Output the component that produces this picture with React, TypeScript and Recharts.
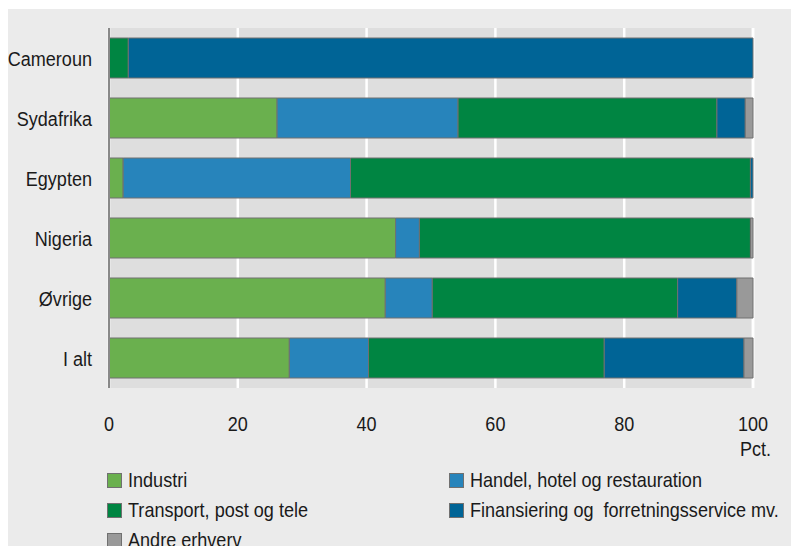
import React from "react";
import { BarChart, Bar, XAxis, YAxis, CartesianGrid } from "recharts";

const categories = ["Cameroun", "Sydafrika", "Egypten", "Nigeria", "Øvrige", "I alt"];
const industri = [0, 26.1, 2.2, 44.5, 42.9, 28.0];
const handel = [0, 28.1, 35.3, 3.7, 7.3, 12.3];
const transport = [3.0, 40.2, 62.1, 51.4, 38.1, 36.6];
const finansiering = [97.0, 4.4, 0.4, 0, 9.2, 21.7];
const andre = [0, 1.2, 0, 0.4, 2.5, 1.4];
const xTicks = [0, 20, 40, 60, 80, 100];
const unitLabel = "Pct.";

const seriesList = [
  { key: "industri", name: "Industri", color: "#6ab04e", values: industri },
  { key: "handel", name: "Handel, hotel og restauration", color: "#2784bb", values: handel },
  { key: "transport", name: "Transport, post og tele", color: "#008542", values: transport },
  { key: "finansiering", name: "Finansiering og  forretningsservice mv.", color: "#006496", values: finansiering },
  { key: "andre", name: "Andre erhverv", color: "#999999", values: andre },
];

const data = categories.map((c, i) => {
  const row: Record<string, any> = { name: c };
  seriesList.forEach((s) => (row[s.key] = s.values[i]));
  return row;
});

const FONT = "'Liberation Sans', Arial, sans-serif";
const FS = 21;
const SX = 0.86;
const TEXT = "#1a1a1a";

const SText = ({ x, y, anchor, children }: any) => (
  <g transform={`translate(${x},${y}) scale(${SX},1)`}>
    <text x={0} y={0} textAnchor={anchor} fontFamily={FONT} fontSize={FS} fill={TEXT} dominantBaseline="central">
      {children}
    </text>
  </g>
);

const XTick = (props: any) => {
  const { x, payload } = props;
  return <SText x={x} y={423} anchor="middle">{payload.value}</SText>;
};

const YTick = (props: any) => {
  const { y, payload } = props;
  return <SText x={92} y={y} anchor="end">{payload.value}</SText>;
};

const legendPositions = [
  { left: 107, top: 473 },
  { left: 449, top: 473 },
  { left: 107, top: 503 },
  { left: 449, top: 503 },
  { left: 107, top: 533 },
];

export default function App() {
  return (
    <div style={{ position: "relative", left: -8, top: -8, width: 799, height: 546, background: "#ffffff", overflow: "hidden" }}>
      <div style={{ position: "absolute", left: 7, top: 9, width: 788, height: 537, background: "#ebebeb" }} />
      <div style={{ position: "absolute", left: 0, top: 0 }}>
        <BarChart
          width={799}
          height={546}
          data={data}
          layout="vertical"
          margin={{ top: 28, right: 46, bottom: 0, left: 0 }}
          barCategoryGap={10}
        >
          <CartesianGrid horizontal={false} vertical={true} stroke="#ffffff" strokeWidth={2.5} fill="#dedede" />
          <XAxis
            type="number"
            domain={[0, 100]}
            ticks={xTicks}
            axisLine={false}
            tickLine={false}
            height={158}
            tick={<XTick />}
            label={(p: any) => {
              const vb = p.viewBox;
              return <SText x={vb.x + vb.width + 18} y={448} anchor="end">{unitLabel}</SText>;
            }}
          />
          <YAxis
            type="category"
            dataKey="name"
            width={109}
            axisLine={{ stroke: "#888888", strokeWidth: 2 }}
            tickLine={false}
            tick={<YTick />}
          />
          {seriesList.map((s) => (
            <Bar
              key={s.key}
              dataKey={s.key}
              name={s.name}
              stackId="a"
              fill={s.color}
              stroke="#707070"
              strokeWidth={1}
              isAnimationActive={false}
            />
          ))}
        </BarChart>
      </div>
      {seriesList.map((s, i) => (
        <div
          key={s.key}
          style={{
            position: "absolute",
            left: legendPositions[i].left,
            top: legendPositions[i].top,
            display: "flex",
            alignItems: "center",
            height: 14,
            fontFamily: FONT,
            fontSize: FS,
            color: TEXT,
            whiteSpace: "pre",
          }}
        >
          <span style={{ display: "inline-block", width: 13, height: 13, background: s.color, border: "1px solid #707070", marginRight: 6 }} />
          <span style={{ display: "inline-block", transform: `scaleX(${SX})`, transformOrigin: "left center" }}>{s.name}</span>
        </div>
      ))}
    </div>
  );
}
